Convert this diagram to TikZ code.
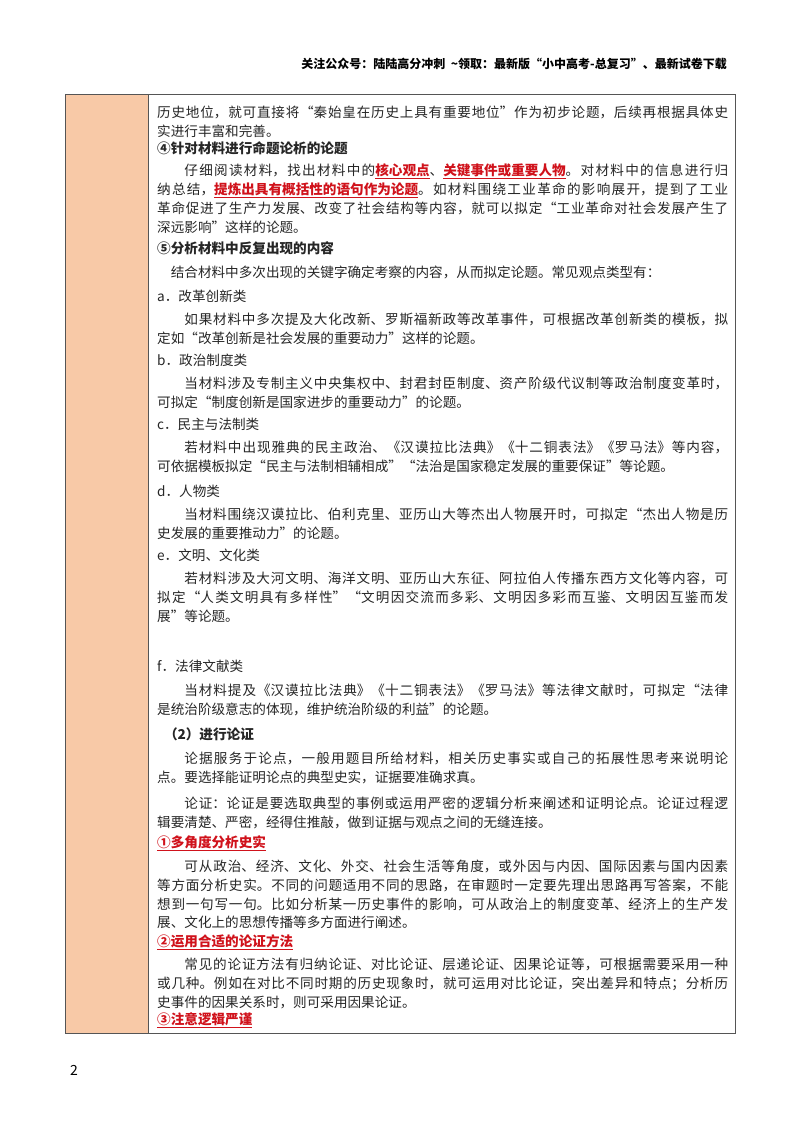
\documentclass[tikz,border=0pt]{standalone}
\usepackage{fontspec}
\setmainfont{Noto Sans CJK SC}
\XeTeXlinebreaklocale "zh"
\XeTeXlinebreakskip=0pt plus 4pt
\definecolor{side}{HTML}{F8C9A7}
\definecolor{frame}{HTML}{555555}
\definecolor{hl}{HTML}{D0121B}
\newcommand{\fl}[3]{\node[body,anchor=base west] (#1) at (157pt,-#2pt-5pt) {\parfillskip=0pt #3\par};}
\newcommand{\lastl}[3]{\node[body,anchor=base west] (#1) at (157pt,-#2pt-5pt) {#3\par};}
\newcommand{\hd}[3]{\node[body,anchor=base west] (#1) at (157pt,-#2pt-5pt) {\bfseries #3\par};}
\newcommand{\rl}[1]{\textcolor{hl}{\bfseries\underline{#1}}}
\tikzset{body/.style={inner sep=0pt,text width=571pt,align=justify,font=\fontsize{13.6pt}{19pt}\selectfont,text=black!85}}
\begin{document}
\begin{tikzpicture}[x=1pt,y=1pt]
\useasboundingbox (0,0) rectangle (800,-1132);
\fill[white] (0,0) rectangle (800,-1132);
\node[anchor=base east,inner sep=0pt,font=\fontsize{12pt}{14pt}\selectfont\bfseries] (head) at (727,-69) {关注公众号：陆陆高分冲刺\ \ \textasciitilde 领取：最新版“小中高考-总复习”、最新试卷下载};
\fill[side] (65,-94) rectangle (148,-1033);
\draw[frame,line width=0.8pt] (65,-94) rectangle (735,-1033);
\draw[frame,line width=0.8pt] (148,-94) -- (148,-1033);
\fl{l1}{112}{历史地位，就可直接将“秦始皇在历史上具有重要地位”作为初步论题，后续再根据具体史}
\lastl{l2}{131}{实进行丰富和完善。}
\hd{h4}{148}{④针对材料进行命题论析的论题}
\fl{l3}{170}{\hspace*{2em}仔细阅读材料，找出材料中的\rl{核心观点}、\rl{关键事件或重要人物}。对材料中的信息进行归}
\fl{l4}{189}{纳总结，\rl{提炼出具有概括性的语句作为论题}。如材料围绕工业革命的影响展开，提到了工业}
\fl{l5}{208}{革命促进了生产力发展、改变了社会结构等内容，就可以拟定“工业革命对社会发展产生了}
\lastl{l6}{227}{深远影响”这样的论题。}
\hd{h5}{248}{⑤分析材料中反复出现的内容}
\lastl{l7}{272}{\hspace*{1em}结合材料中多次出现的关键字确定考察的内容，从而拟定论题。常见观点类型有：}
\lastl{a}{296}{a．改革创新类}
\fl{l8}{319}{\hspace*{2em}如果材料中多次提及大化改新、罗斯福新政等改革事件，可根据改革创新类的模板，拟}
\lastl{l9}{338}{定如“改革创新是社会发展的重要动力”这样的论题。}
\lastl{b}{360}{b．政治制度类}
\fl{l10}{383}{\hspace*{2em}当材料涉及专制主义中央集权中、封君封臣制度、资产阶级代议制等政治制度变革时，}
\lastl{l11}{402}{可拟定“制度创新是国家进步的重要动力”的论题。}
\lastl{c}{424}{c．民主与法制类}
\fl{l12}{447}{\hspace*{2em}若材料中出现雅典的民主政治、《汉谟拉比法典》《十二铜表法》《罗马法》等内容，}
\lastl{l13}{466}{可依据模板拟定“民主与法制相辅相成”“法治是国家稳定发展的重要保证”等论题。}
\lastl{d}{491}{d．人物类}
\fl{l14}{514}{\hspace*{2em}当材料围绕汉谟拉比、伯利克里、亚历山大等杰出人物展开时，可拟定“杰出人物是历}
\lastl{l15}{533}{史发展的重要推动力”的论题。}
\lastl{e}{555}{e．文明、文化类}
\fl{l16}{578}{\hspace*{2em}若材料涉及大河文明、海洋文明、亚历山大东征、阿拉伯人传播东西方文化等内容，可}
\fl{l17}{597}{拟定“人类文明具有多样性”“文明因交流而多彩、文明因多彩而互鉴、文明因互鉴而发}
\lastl{l18}{616}{展”等论题。}
\lastl{f}{666}{f．法律文献类}
\fl{l19}{690}{\hspace*{2em}当材料提及《汉谟拉比法典》《十二铜表法》《罗马法》等法律文献时，可拟定“法律}
\lastl{l20}{709}{是统治阶级意志的体现，维护统治阶级的利益”的论题。}
\hd{p2}{734}{\hspace*{0.5em}（2）进行论证}
\fl{l21}{758}{\hspace*{2em}论据服务于论点，一般用题目所给材料，相关历史事实或自己的拓展性思考来说明论}
\lastl{l22}{777}{点。要选择能证明论点的典型史实，证据要准确求真。}
\fl{l23}{803}{\hspace*{2em}论证：论证是要选取典型的事例或运用严密的逻辑分析来阐述和证明论点。论证过程逻}
\lastl{l24}{822}{辑要清楚、严密，经得住推敲，做到证据与观点之间的无缝连接。}
\hd{r1}{842}{\rl{①多角度分析史实}}
\fl{l25}{866}{\hspace*{2em}可从政治、经济、文化、外交、社会生活等角度，或外因与内因、国际因素与国内因素}
\fl{l26}{885}{等方面分析史实。不同的问题适用不同的思路，在审题时一定要先理出思路再写答案，不能}
\fl{l27}{904}{想到一句写一句。比如分析某一历史事件的影响，可从政治上的制度变革、经济上的生产发}
\lastl{l28}{922}{展、文化上的思想传播等多方面进行阐述。}
\hd{r2}{941}{\rl{②运用合适的论证方法}}
\fl{l29}{964}{\hspace*{2em}常见的论证方法有归纳论证、对比论证、层递论证、因果论证等，可根据需要采用一种}
\fl{l30}{983}{或几种。例如在对比不同时期的历史现象时，就可运用对比论证，突出差异和特点；分析历}
\lastl{l31}{1002}{史事件的因果关系时，则可采用因果论证。}
\hd{r3}{1019}{\rl{③注意逻辑严谨}}
\node[anchor=base west,inner sep=0pt,font=\fontsize{14pt}{16pt}\selectfont] (pg) at (70,-1075) {2};
\end{tikzpicture}
\end{document}
